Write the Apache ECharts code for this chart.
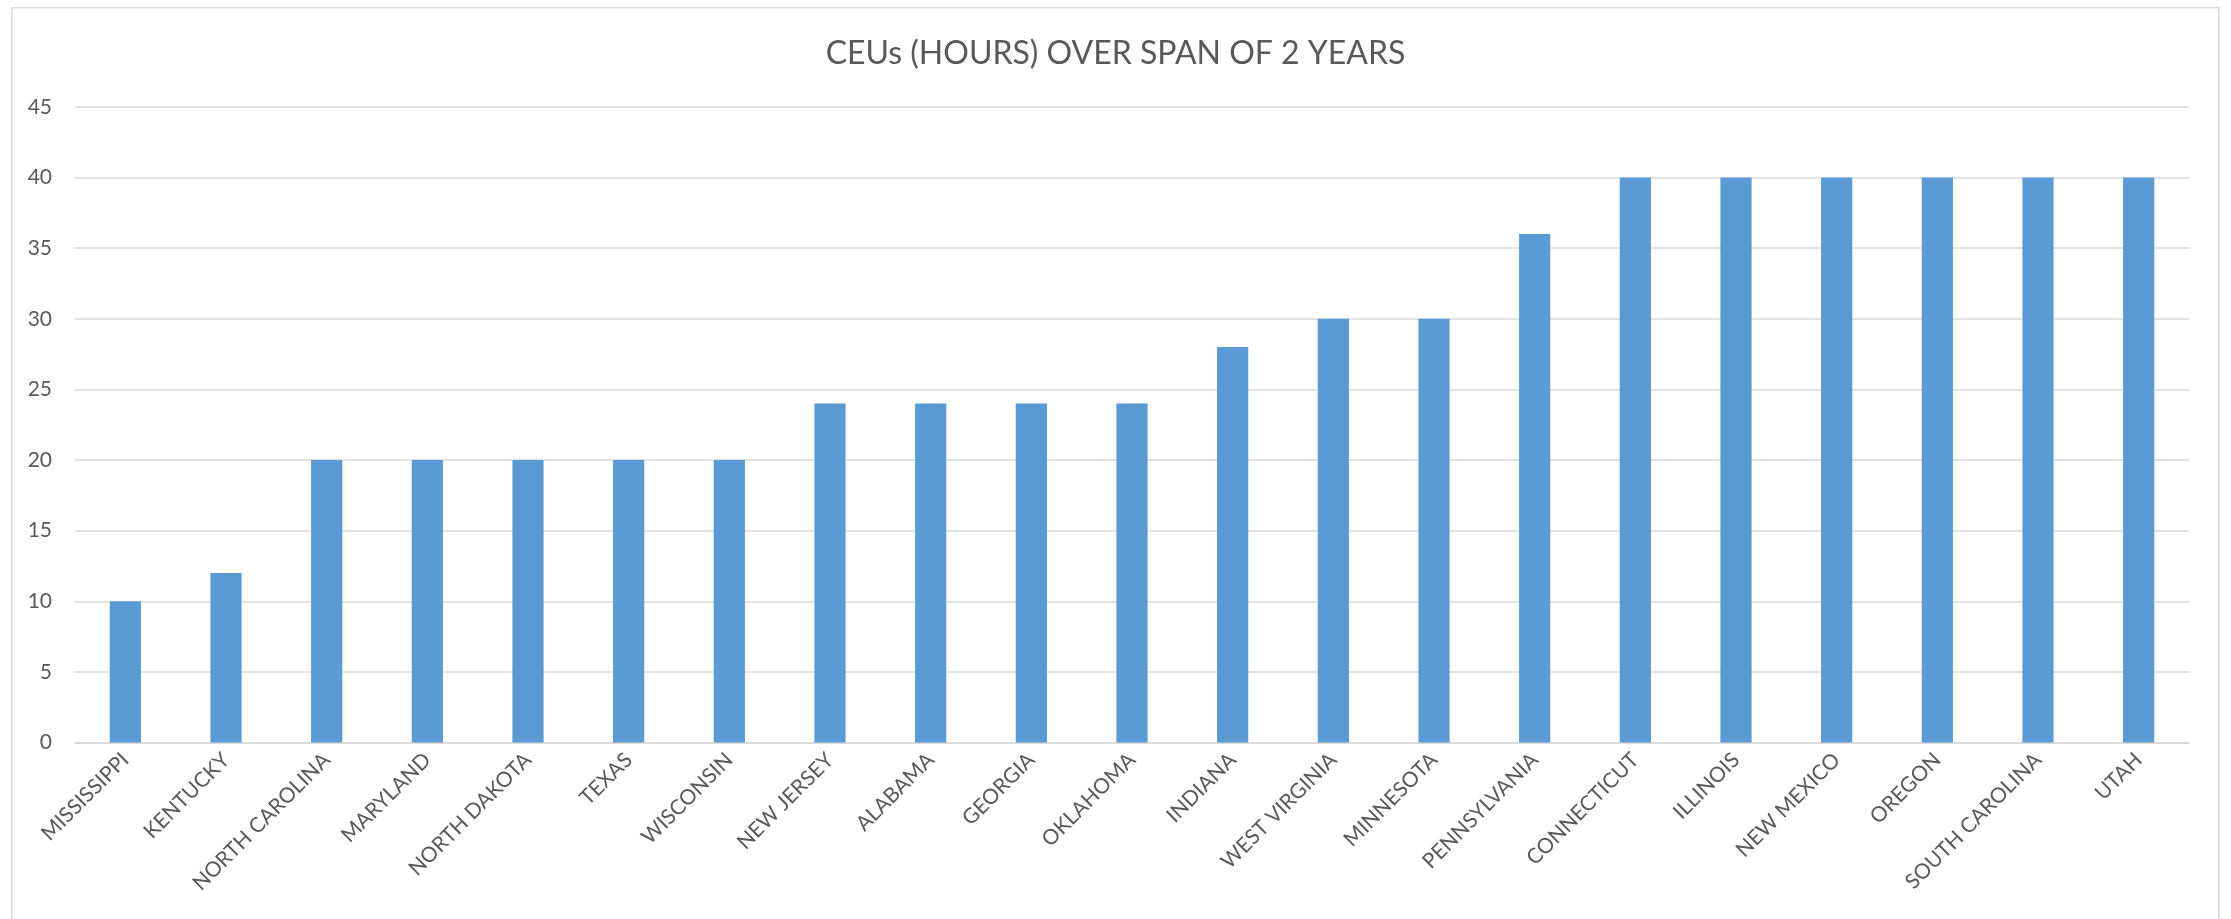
<!DOCTYPE html>
<html>
<head>
<meta charset="utf-8">
<script src="https://cdn.jsdelivr.net/npm/echarts@6/dist/echarts.min.js"></script>
<style>
html,body{margin:0;padding:0;background:#fff;}
#chart{width:2231px;height:919px;}
</style>
</head>
<body>
<div id="chart"></div>
<script>
const titleText = 'CEUs (HOURS) OVER SPAN OF 2 YEARS';
const states = ['MISSISSIPPI','KENTUCKY','NORTH CAROLINA','MARYLAND','NORTH DAKOTA','TEXAS','WISCONSIN','NEW JERSEY','ALABAMA','GEORGIA','OKLAHOMA','INDIANA','WEST VIRGINIA','MINNESOTA','PENNSYLVANIA','CONNECTICUT','ILLINOIS','NEW MEXICO','OREGON','SOUTH CAROLINA','UTAH'];
const hours = [10,12,20,20,20,20,20,24,24,24,24,28,30,30,36,40,40,40,40,40,40];

const chart = echarts.init(document.getElementById('chart'), null, {renderer:'canvas'});
chart.setOption({
  animation:false,
  backgroundColor:'#ffffff',
  textStyle:{fontFamily:'Lato'},
  graphic:[{
    type:'rect', left:11, top:7, z:-1,
    shape:{x:0,y:0,width:2207,height:930},
    style:{fill:'#fff',stroke:'#d9d9d9',lineWidth:1.5}
  }],
  title:{
    text:titleText, left:'center', top:33,
    textStyle:{fontFamily:'Lato',fontWeight:'normal',fontSize:32,color:'#595959'}
  },
  grid:{left:75,right:42,top:107,bottom:176.5,containLabel:false},
  xAxis:{
    type:'category', data:states,
    axisLine:{lineStyle:{color:'#d9d9d9',width:1.5}},
    axisTick:{show:false},
    axisLabel:{rotate:45,interval:0,margin:14,color:'#595959',fontSize:21,fontFamily:'Lato'}
  },
  yAxis:{
    type:'value', min:0, max:45, interval:5,
    axisLine:{show:false}, axisTick:{show:false},
    splitLine:{lineStyle:{color:'#d9d9d9',width:1.5}},
    axisLabel:{margin:23,color:'#595959',fontSize:21,fontFamily:'Lato'}
  },
  series:[{
    type:'bar', data:hours, barWidth:'31%',
    itemStyle:{color:'#5b9bd5'}
  }]
});
</script>
</body>
</html>
